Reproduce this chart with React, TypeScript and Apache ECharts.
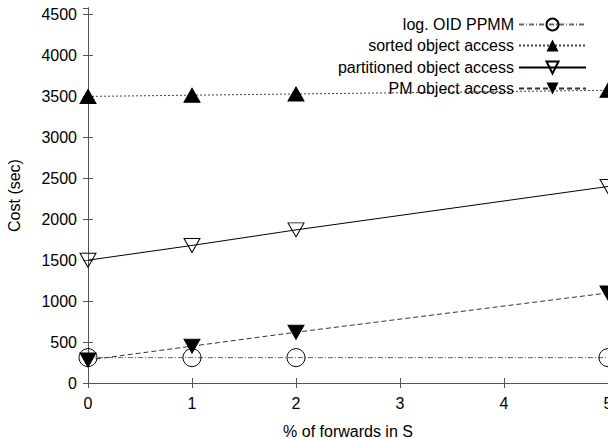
import React, { useEffect, useRef } from "react";
import * as echarts from "echarts";

const xValues = [0, 1, 2, 5];
const seriesNames = [
  "log. OID PPMM",
  "sorted object access",
  "partitioned object access",
  "PM object access",
];
const logOidPpmm = [310, 310, 310, 310];
const sortedAccess = [3500, 3515, 3530, 3575];
const partitionedAccess = [1500, 1680, 1870, 2400];
const pmAccess = [280, 450, 620, 1100];
const xTitle = "% of forwards in S";
const yTitle = "Cost (sec)";

const FONT = "Liberation Sans, Arial, Helvetica, sans-serif";
const AX = "#555";

export default function App() {
  const ref = useRef<HTMLDivElement>(null);
  useEffect(() => {
    if (!ref.current) return;
    const chart = echarts.init(ref.current, null, { renderer: "svg" });
    const pair = (ys: number[]) => xValues.map((x, i) => [x, ys[i]]);
    const axisBase = {
      type: "value" as const,
      axisLine: { show: true, lineStyle: { color: AX, width: 1 } },
      axisTick: { show: true, inside: true, length: 5, lineStyle: { color: AX } },
      splitLine: { show: false },
    };
    const legendTops = [16.5, 37.5, 59.5, 80.5];
    chart.setOption({
      animation: false,
      backgroundColor: "#fff",
      textStyle: { fontFamily: FONT },
      grid: {
        left: 88,
        right: 0,
        top: 8,
        bottom: 55,
        containLabel: false,
        outerBoundsMode: "none",
      },
      legend: seriesNames.map((n, i) => ({
        data: [n],
        right: 21,
        top: legendTops[i],
        align: "right",
        itemWidth: 67,
        itemHeight: 15,
        itemGap: 0,
        padding: 0,
        selectedMode: false,
        textStyle: { fontFamily: FONT, fontSize: 16, color: "#000" },
      })),
      xAxis: [
        {
          ...axisBase,
          min: 0,
          max: 5,
          interval: 1,
          name: xTitle,
          nameLocation: "middle",
          nameGap: 40,
          nameTextStyle: { fontFamily: FONT, fontSize: 16, color: "#000" },
          axisLabel: { fontFamily: FONT, fontSize: 16, color: "#000", margin: 12 },
        },
        {
          ...axisBase,
          position: "top",
          min: 0,
          max: 5,
          interval: 1,
          axisLabel: { show: false },
        },
      ],
      yAxis: [
        {
          ...axisBase,
          min: 0,
          max: 4580,
          interval: 500,
          name: yTitle,
          nameLocation: "middle",
          nameGap: 66,
          nameTextStyle: { fontFamily: FONT, fontSize: 16, color: "#000" },
          axisLabel: {
            fontFamily: FONT,
            fontSize: 16,
            color: "#000",
            margin: 11,
            showMaxLabel: false,
            formatter: (v: number) => String(v),
          },
        },
        {
          ...axisBase,
          position: "right",
          min: 0,
          max: 4580,
          interval: 500,
          axisLabel: { show: false },
        },
      ],
      series: [
        {
          name: seriesNames[0],
          type: "line",
          data: pair(logOidPpmm),
          symbol: "circle",
          symbolSize: 18,
          itemStyle: { color: "rgba(0,0,0,0)", borderColor: "#000", borderWidth: 1 },
          lineStyle: { color: "#666", width: 1, type: [5, 2, 1, 2] },
          z: 3,
        },
        {
          name: seriesNames[1],
          type: "line",
          data: pair(sortedAccess),
          symbol: "triangle",
          symbolSize: [16, 14],
          itemStyle: { color: "#000", borderColor: "#000" },
          lineStyle: { color: "#444", width: 1, type: [2, 2] },
        },
        {
          name: seriesNames[2],
          type: "line",
          data: pair(partitionedAccess),
          symbol: "triangle",
          symbolRotate: 180,
          symbolSize: [16, 14],
          itemStyle: { color: "rgba(255,255,255,0)", borderColor: "#000", borderWidth: 1 },
          lineStyle: { color: "#000", width: 1, type: "solid" },
        },
        {
          name: seriesNames[3],
          type: "line",
          data: pair(pmAccess),
          symbol: "triangle",
          symbolRotate: 180,
          symbolSize: [16, 14],
          itemStyle: { color: "#000", borderColor: "#000" },
          lineStyle: { color: "#333", width: 1, type: [5, 3] },
        },
      ],
    });
    return () => chart.dispose();
  }, []);
  return (
    <div
      ref={ref}
      style={{ position: "fixed", left: 0, top: 0, width: 608, height: 438 }}
    />
  );
}
